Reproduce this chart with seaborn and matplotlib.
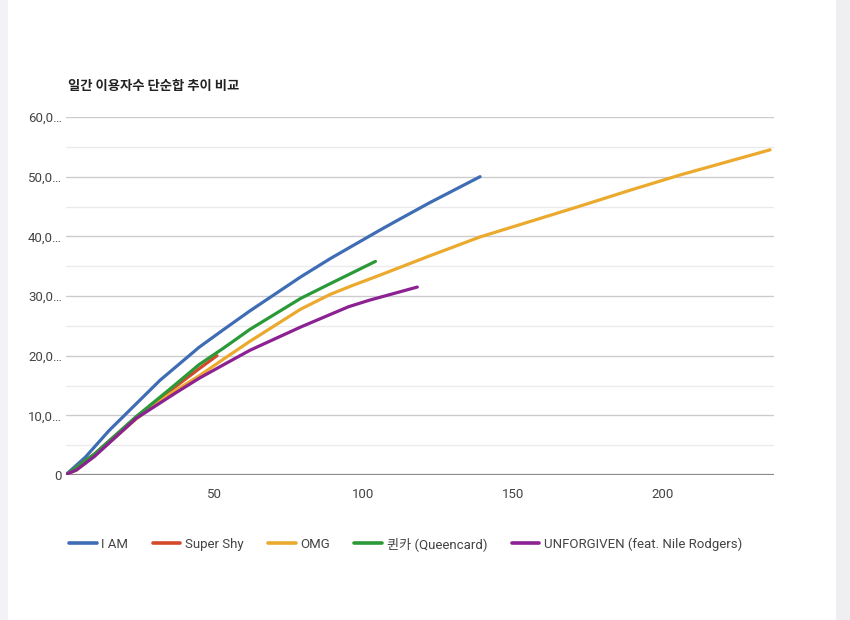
import matplotlib
matplotlib.use("Agg")
import matplotlib.pyplot as plt
import seaborn as sns
import pandas as pd
from matplotlib.patches import Rectangle
from matplotlib.lines import Line2D

# ---- data ----
title = "일간 이용자수 단순합 추이 비교"
series_names = ["I AM", "Super Shy", "OMG", "퀸카 (Queencard)", "UNFORGIVEN (feat. Nile Rodgers)"]
colors = ["#3e6db5", "#d4492a", "#ebaa2e", "#2c9938", "#8b2192"]

iam_days = [1, 7, 15, 32, 45, 53, 62, 79, 89, 105, 110, 122, 139]
iam_vals = [300, 3000, 7500, 15900, 21400, 24300, 27500, 33200, 36300, 40900, 42300, 45600, 50000]

supershy_days = [1, 10, 24, 35, 45, 51]
supershy_vals = [200, 3500, 9700, 14000, 17800, 20000]

omg_days = [1, 4, 10, 24, 35, 45, 54, 62, 79, 89, 96, 105, 122, 139, 172, 189, 206, 236]
omg_vals = [200, 800, 3300, 9400, 13500, 16600, 19700, 22400, 27800, 30300, 31700, 33400, 36700, 39900,
            45000, 47700, 50300, 54500]

qc_days = [1, 10, 24, 35, 45, 53, 62, 79, 89, 104]
qc_vals = [200, 3500, 9800, 14300, 18500, 21200, 24400, 29600, 32100, 35800]

unf_days = [1, 4, 10, 24, 37, 45, 54, 62, 79, 95, 102, 118]
unf_vals = [200, 840, 3100, 9500, 13700, 16200, 18700, 20900, 24800, 28200, 29300, 31500]

y_ticks = [0, 10000, 20000, 30000, 40000, 50000, 60000]
y_ticklabels = ["0", "10,0…", "20,0…", "30,0…", "40,0…", "50,0…", "60,0…"]
x_ticks = [50, 100, 150, 200]
x_ticklabels = ["50", "100", "150", "200"]

# ---- long-form table ----
frames = []
for name, d, v in [(series_names[0], iam_days, iam_vals),
                   (series_names[1], supershy_days, supershy_vals),
                   (series_names[2], omg_days, omg_vals),
                   (series_names[3], qc_days, qc_vals),
                   (series_names[4], unf_days, unf_vals)]:
    frames.append(pd.DataFrame({"day": d, "users": v, "song": name}))
df = pd.concat(frames, ignore_index=True)

sns.set_theme(style="white")
plt.rcParams['font.family'] = ['Roboto', 'Noto Sans CJK KR', 'DejaVu Sans']

fig = plt.figure(figsize=(8.5, 6.2), dpi=100)
fig.patch.set_facecolor("white")
# screenshot edge strips
fig.patches.append(Rectangle((0, 0), 8 / 850, 1, transform=fig.transFigure,
                             facecolor="#f3f3f7", edgecolor="none", zorder=0))
fig.patches.append(Rectangle((836 / 850, 0), 14 / 850, 1, transform=fig.transFigure,
                             facecolor="#efeff1", edgecolor="none", zorder=0))

ax = fig.add_axes([66 / 850, 145 / 620, (774 - 66) / 850, (475 - 117) / 620])

sns.lineplot(data=df, x="day", y="users", hue="song", hue_order=series_names,
             palette=colors, linewidth=2.3, ax=ax, legend=False, sort=True,
             estimator=None)

ax.set_xlim(0.5, 237.3)
ax.set_ylim(0, 60000)

# gridlines
for v in range(5000, 60001, 5000):
    major = v % 10000 == 0
    ax.axhline(v, color="#cccccc" if major else "#ebebeb", linewidth=1.0, zorder=0)
ax.axhline(0, color="#8a8a8a", linewidth=1.6, zorder=1)

for s in ax.spines.values():
    s.set_visible(False)

ax.set_yticks(y_ticks)
ax.set_yticklabels(y_ticklabels)
ax.set_xticks(x_ticks)
ax.set_xticklabels(x_ticklabels)
ax.tick_params(axis="both", length=0, labelsize=9.5, labelcolor="#444444")
ax.tick_params(axis="y", pad=3)
ax.tick_params(axis="x", pad=9)
ax.set_xlabel("")
ax.set_ylabel("")

fig.text(68 / 850, 1 - 86 / 620, title, fontsize=9.6, fontweight="bold",
         family=['Noto Sans CJK KR', 'DejaVu Sans'], color="#222222", va="center", ha="left")

# legend
handles = [Line2D([0], [0], color=c, linewidth=2.6) for c in colors]
leg = fig.legend(handles, series_names, loc="center left",
                 bbox_to_anchor=(57 / 850, 1 - 544 / 620), ncol=5, frameon=False,
                 handlelength=2.1, handletextpad=0.35, columnspacing=1.85,
                 prop={'family': ['Roboto', 'Noto Sans CJK KR', 'DejaVu Sans'], 'size': 9.5})
for t in leg.get_texts():
    t.set_color("#444444")

fig.savefig("out.png", dpi=100)
